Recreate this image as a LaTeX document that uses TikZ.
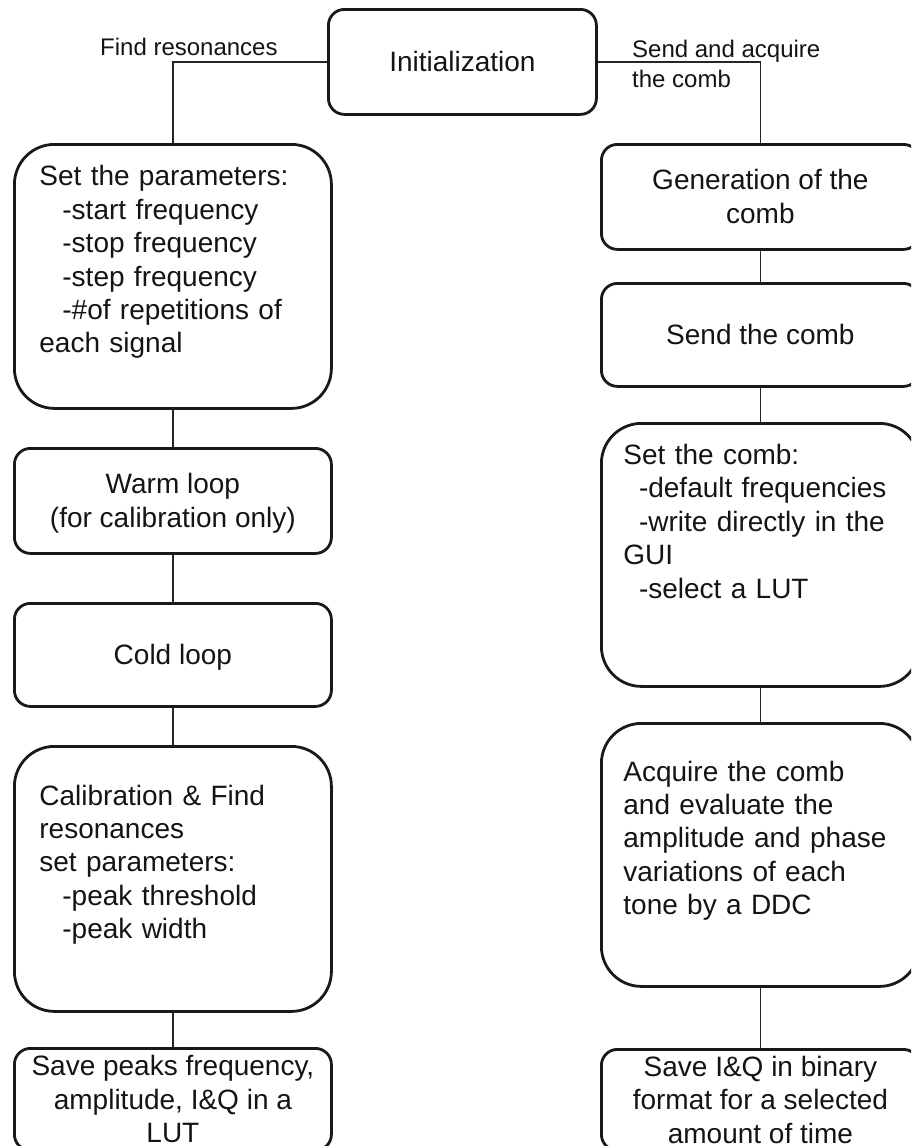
\documentclass[tikz,border=0pt]{standalone}
\usepackage{fontspec}
\setmainfont{Liberation Sans}
\newcommand\lstr{\rule[-7pt]{0pt}{33.4pt}}
\newcommand\indL{\hspace*{23pt}}
\newcommand\indR{\hspace*{15.6pt}}
\begin{document}
\begin{tikzpicture}[x=1pt,y=-1pt,
  box/.style={draw=black!90, line width=2.8pt, rounded corners=16pt, inner sep=0pt,
    font=\fontsize{28}{33.4}\selectfont, anchor=north west, align=center, text=black!92},
  bigbox/.style={box, rounded corners=40pt, align=left},
  lbox/.style={minimum width=317pt},
  rbox/.style={minimum width=318pt},
  conn/.style={draw=black!85, line width=1.8pt},
  lbl/.style={font=\fontsize{24}{30}\selectfont, inner sep=0pt, align=left, text=black!92}]
\useasboundingbox (0,0) rectangle (911,1146);
\clip (0,0) rectangle (911,1146);

% top
\node[box, minimum width=268pt, minimum height=105pt] (init) at (327,8) {\lstr Initialization\lstr};

% left column
\node[bigbox, minimum height=264pt, text width=267pt, inner xsep=25pt] (par) at (13,143)
  {\lstr Set the parameters:\\\indL-start frequency\\\indL-stop frequency\\\indL-step frequency\\\indL-\#of repetitions of\\each signal\\\lstr};
\node[box, lbox, minimum height=105pt] (warm) at (13,447) {\lstr Warm loop\\(for calibration only)\lstr};
\node[box, lbox, minimum height=103pt] (cold) at (13,602) {\lstr Cold loop\lstr};
\node[bigbox, minimum height=265pt, text width=267pt, inner xsep=25pt] (cal) at (13,745)
  {\lstr Calibration \& Find\\resonances\\set parameters:\\\indL-peak threshold\\\indL-peak width\\\lstr};
\node[box, lbox, minimum height=102pt] (savep) at (13,1047) {\lstr Save peaks frequency,\\amplitude, I\&Q in a\\LUT\lstr};

% right column
\node[box, rbox, minimum height=105pt] (gen) at (600,143) {\lstr Generation of the\\comb\lstr};
\node[box, rbox, minimum height=103pt] (send) at (600,282) {\lstr Send the comb\lstr};
\node[bigbox, minimum height=263pt, text width=274pt, inner xsep=22pt] (setc) at (600,422)
  {\lstr Set the comb:\\\indR-default frequencies\\\indR-write directly in the\\GUI\\\indR-select a LUT\\\lstr\\\lstr};
\node[bigbox, minimum height=263pt, text width=274pt, inner xsep=22pt] (acq) at (600,722)
  {\lstr Acquire the comb\\and evaluate the\\amplitude and phase\\variations of each\\tone by a DDC\\\lstr};
\node[box, rbox, minimum height=101pt] (saveq) at (600,1048) {\lstr Save I\&Q in binary\\format for a selected\\amount of time\lstr};

% labels
\node[lbl, anchor=base west] (lfind) at (100,55) {Find resonances};
\node[lbl, anchor=north west] (lsend) at (632,39) {\rule{0pt}{18pt}Send and acquire\\the comb};

% connectors
\draw[conn] (init.west) -| (par.north);
\draw[conn] (init.east) -| (gen.north);
\draw[conn] (par.south) -- (warm.north);
\draw[conn] (warm.south) -- (cold.north);
\draw[conn] (cold.south) -- (cal.north);
\draw[conn] (cal.south) -- (savep.north);
\draw[conn] (gen.south) -- (send.north);
\draw[conn] (send.south) -- (setc.north);
\draw[conn] (setc.south) -- (acq.north);
\draw[conn] (acq.south) -- (saveq.north);
\end{tikzpicture}
\end{document}
